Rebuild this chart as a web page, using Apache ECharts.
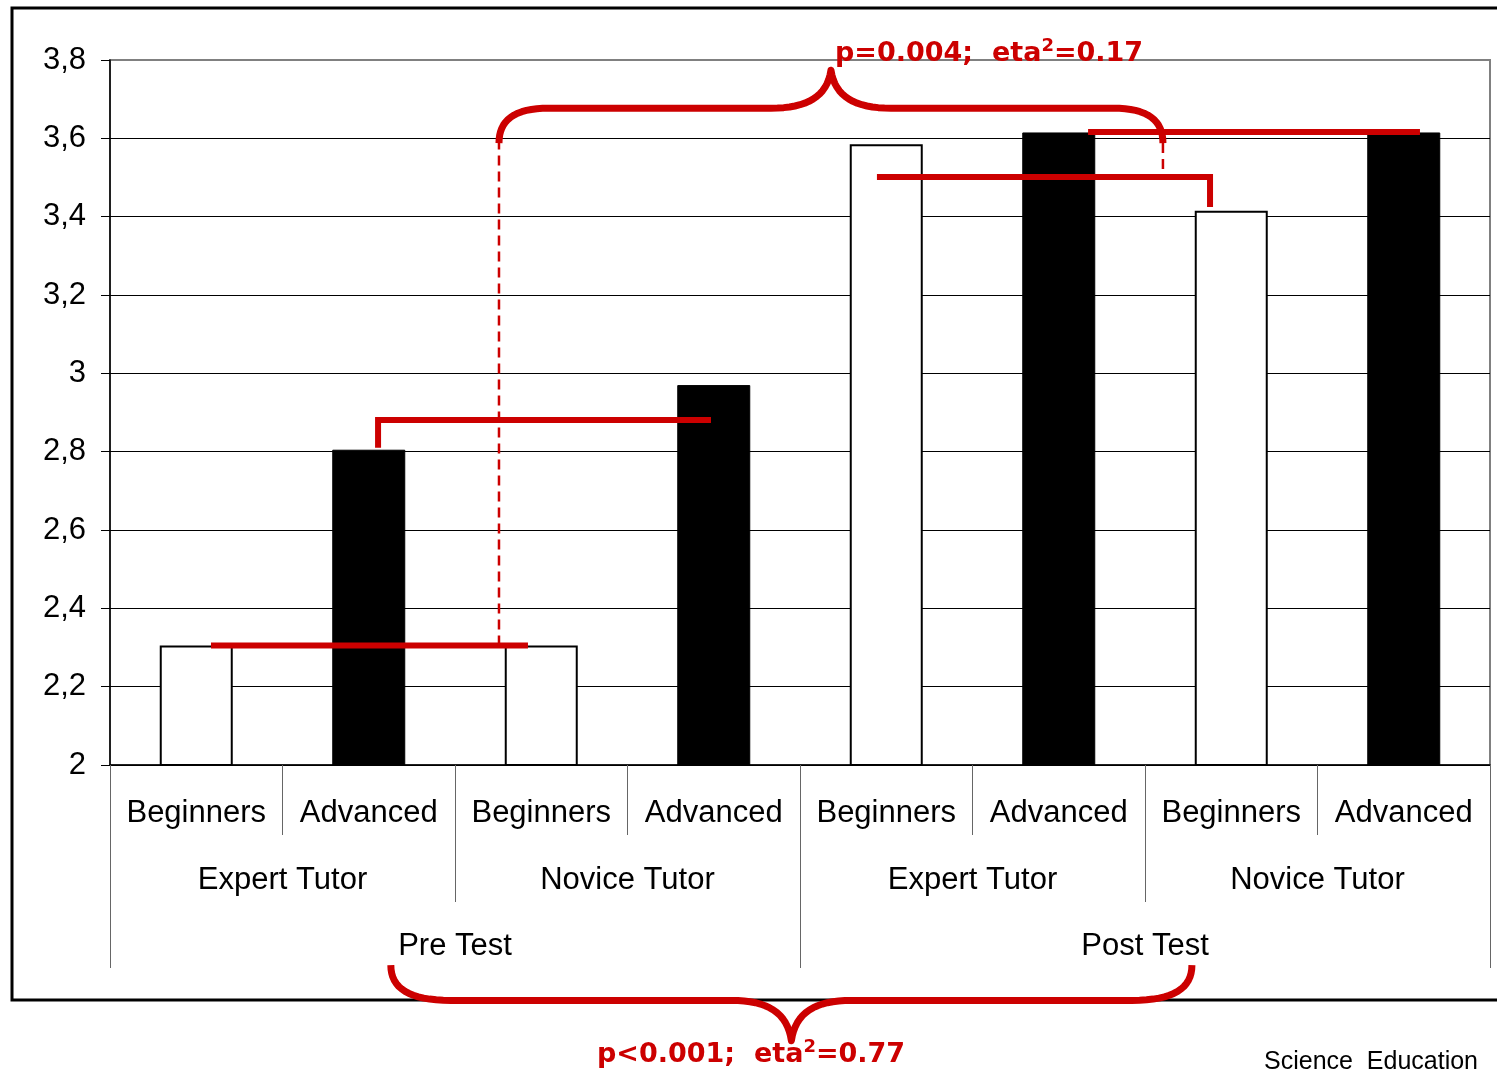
<!DOCTYPE html>
<html><head><meta charset="utf-8">
<script src="https://cdn.jsdelivr.net/npm/echarts@6/dist/echarts.min.js"></script>
<style>html,body{margin:0;padding:0;background:#fff}#c{width:1497px;height:1071px}</style>
</head><body><div id="c"></div>
<script>
// ---- data ----
const levels = ['Beginners','Advanced','Beginners','Advanced','Beginners','Advanced','Beginners','Advanced'];
const tutors = ['Expert Tutor','Novice Tutor','Expert Tutor','Novice Tutor'];
const tests = ['Pre Test','Post Test'];
const values = [2.305, 2.805, 2.305, 2.97, 3.585, 3.615, 3.415, 3.615];
const yTickLabels = ['2','2,2','2,4','2,6','2,8','3','3,2','3,4','3,6','3,8'];
const topNote = ['p=0.004;  eta', '2', '=0.17'];
const bottomNote = ['p<0.001;  eta', '2', '=0.77'];
const sourceText = 'Science  Education';

const FONT = '"Liberation Sans", Arial, sans-serif';
const RED = '#CC0000';
const chart = echarts.init(document.getElementById('c'), null, {renderer:'canvas'});

const tickStyle = {color:'#666', width:1};
const labelBase = {interval:0, fontSize:31, fontFamily:FONT, color:'#000', lineHeight:31};

chart.setOption({
  animation:false,
  backgroundColor:'#fff',
  grid:{left:110, right:7, top:60, bottom:306, show:true, borderColor:'#808080', borderWidth:2,
        backgroundColor:'#fff', containLabel:false, outerBoundsMode:'none'},
  xAxis:[
    {type:'category', data:levels, position:'bottom',
     axisLine:{show:true, lineStyle:{color:'#000', width:1.5}},
     axisTick:{show:true, interval:0, length:70, lineStyle:tickStyle},
     axisLabel:Object.assign({margin:33}, labelBase), splitLine:{show:false}},
    {type:'category', data:tutors, position:'bottom',
     axisLine:{show:false},
     axisTick:{show:true, interval:0, length:137, lineStyle:tickStyle},
     axisLabel:Object.assign({margin:100}, labelBase), splitLine:{show:false}},
    {type:'category', data:tests, position:'bottom',
     axisLine:{show:false},
     axisTick:{show:true, interval:0, length:203, lineStyle:tickStyle},
     axisLabel:Object.assign({margin:166}, labelBase), splitLine:{show:false}}
  ],
  yAxis:{type:'value', min:2, max:3.8, interval:0.2,
    axisLine:{show:true, lineStyle:{color:'#000', width:1.5}},
    axisTick:{show:true, length:9, lineStyle:{color:'#000', width:1}},
    axisLabel:{margin:24, fontSize:31, fontFamily:FONT, color:'#000',
      formatter:v => yTickLabels[Math.round((v-2)/0.2)]},
    splitLine:{show:true, showMaxLine:false, lineStyle:{color:'#000', width:1}}},
  series:[{type:'bar', xAxisIndex:0, yAxisIndex:0, barWidth:73,
    data:values.map((v,i)=>({value:v, itemStyle: levels[i]==='Beginners'
      ? {color:'#fff', borderColor:'#000', borderWidth:2}
      : {color:'#000', borderColor:'#000', borderWidth:1}}))}]
});

// ---- annotations positioned in data space ----
const c0 = chart.convertToPixel({xAxisIndex:0, yAxisIndex:0}, [0, 2]);
const c1 = chart.convertToPixel({xAxisIndex:0, yAxisIndex:0}, [1, 2]);
const y38 = chart.convertToPixel({xAxisIndex:0, yAxisIndex:0}, [0, 3.8])[1];
const bw = c1[0]-c0[0];
const X = xi => c0[0] + xi*bw;
const Y = v => c0[1] + (v-2)/1.8*(y38-c0[1]);
const P = (xi, v) => [X(xi), Y(v)];

function cubic(p0, p1, p2, p3, n){
  const pts=[];
  for(let i=0;i<=n;i++){
    const t=i/n, u=1-t;
    pts.push([u*u*u*p0[0]+3*u*u*t*p1[0]+3*u*t*t*p2[0]+t*t*t*p3[0],
              u*u*u*p0[1]+3*u*u*t*p1[1]+3*u*t*t*p2[1]+t*t*t*p3[1]]);
  }
  return pts;
}
function bracePoints(xL, xR, yE, yL, yP, r){
  const xm=(xL+xR)/2, rm=60, k=0.35;
  let pts=[];
  pts = pts.concat(cubic([xL,yE],[xL,yL+(yE-yL)*k],[xL+r*0.3,yL],[xL+r,yL],16));
  pts = pts.concat(cubic([xm-rm,yL],[xm-rm*0.4,yL],[xm-4,yL+(yP-yL)*0.3],[xm,yP],16));
  pts = pts.concat(cubic([xm,yP],[xm+4,yL+(yP-yL)*0.3],[xm+rm*0.4,yL],[xm+rm,yL],16).slice(1));
  pts = pts.concat(cubic([xR-r,yL],[xR-r*0.3,yL],[xR,yL+(yE-yL)*k],[xR,yE],16));
  return pts;
}

const thick = {stroke:RED, lineWidth:6, fill:null, lineJoin:'miter', lineCap:'butt'};
const dashed = {stroke:RED, lineWidth:2.5, fill:null, lineDash:[10,6]};
const braceStyle = {stroke:RED, lineWidth:7, fill:null, lineJoin:'round', lineCap:'butt'};

const topBrace = {xL:1.755, xR:5.604, yE:3.588, yL:3.677, yP:3.774};
const botBrace = {xL:1.128, xR:5.772, yE:1.489, yL:1.399, yP:1.296};

const rich = {
  a:{fontSize:27, fontWeight:'bold', fontFamily:'"DejaVu Sans", sans-serif', fill:RED, lineHeight:34},
  s:{fontSize:18, fontWeight:'bold', fontFamily:'"DejaVu Sans", sans-serif', fill:RED, lineHeight:20, verticalAlign:'top'}
};
const noteText = n => `{a|${n[0]}}{s|${n[1]}}{a|${n[2]}}`;

const graphics = [
  {type:'rect', shape:{x:12, y:8, width:1500, height:992}, style:{fill:null, stroke:'#000', lineWidth:3}, z:50, silent:true},
  {type:'polyline', shape:{points:[P(0.0855, values[0]), P(1.923, values[0])]}, style:thick, z:100},
  {type:'polyline', shape:{points:[P(1.054, values[1]+0.005), P(1.054, 2.881), P(2.984, 2.881)]}, style:thick, z:100},
  {type:'polyline', shape:{points:[P(3.946, 3.501), P(5.877, 3.501), P(5.877, 3.425)]}, style:thick, z:100},
  {type:'polyline', shape:{points:[P(5.170, 3.616), P(7.094, 3.616)]}, style:thick, z:100},
  {type:'polyline', shape:{points:[P(1.755, values[2]), P(1.755, topBrace.yE)]}, style:dashed, z:100},
  {type:'polyline', shape:{points:[P(5.604, topBrace.yE), P(5.604, 3.506)]}, style:dashed, z:100},
  {type:'polyline', shape:{points:bracePoints(X(topBrace.xL), X(topBrace.xR), Y(topBrace.yE), Y(topBrace.yL), Y(topBrace.yP), 50)},
   style:braceStyle, z:100},
  {type:'polyline', shape:{points:bracePoints(X(botBrace.xL), X(botBrace.xR), Y(botBrace.yE), Y(botBrace.yL), Y(botBrace.yP), 60)},
   style:braceStyle, z:100},
  {type:'text', x:835, y:54, style:{text:noteText(topNote), rich:rich, verticalAlign:'middle', align:'left'}, z:110},
  {type:'text', x:597, y:1055, style:{text:noteText(bottomNote), rich:rich, verticalAlign:'middle', align:'left'}, z:110},
  {type:'text', x:1264, y:1062, style:{text:sourceText, fontSize:25, fontFamily:FONT, fill:'#000', verticalAlign:'middle', align:'left'}, z:110}
];
chart.setOption({graphic:{elements:graphics}});
</script>
</body></html>
